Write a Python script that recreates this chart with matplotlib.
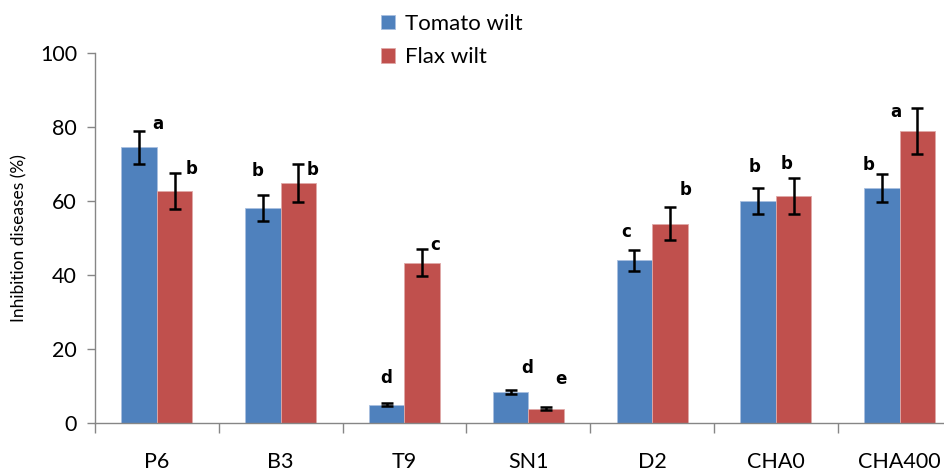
import matplotlib
matplotlib.use("Agg")
import matplotlib.pyplot as plt
import numpy as np

# data
strains = ["P6", "B3", "T9", "SN1", "D2", "CHA0", "CHA400"]
tomato = [74.5, 58.0, 4.9, 8.3, 44.0, 59.9, 63.4]
tomato_err = [4.4, 3.5, 0.4, 0.5, 2.8, 3.5, 3.8]
flax = [62.8, 64.9, 43.3, 3.9, 53.9, 61.4, 79.0]
flax_err = [4.9, 5.1, 3.6, 0.4, 4.4, 4.8, 6.2]
tomato_letters = ["a", "b", "d", "d", "c", "b", "b"]
flax_letters = ["b", "b", "c", "e", "b", "b", "a"]

# where the letters sit (offset from group centre, height)
tomato_lpos = [(0.01, 80.8), (-0.19, 68.0), (-0.15, 12.1), (-0.01, 14.9),
               (-0.21, 51.7), (-0.17, 69.2), (-0.25, 69.7)]
flax_lpos = [(0.28, 68.6), (0.26, 68.4), (0.25, 48.1), (0.26, 11.9),
             (0.27, 63.0), (0.09, 69.9), (-0.03, 84.1)]

blue = "#4F81BD"
red = "#C0504D"
grey = "#868686"

plt.rcParams["font.family"] = ["Lato", "DejaVu Sans"]

fig = plt.figure(figsize=(9.45, 4.74), dpi=100)
W, H = 945.0, 474.0
ax = fig.add_axes([95 / W, (H - 423) / H, 866.6 / W, 370 / H])

x = np.arange(len(strains))
bw = 0.287
ax.bar(x - bw / 2, tomato, bw, color=blue, edgecolor="#A9C0E0", linewidth=0.6,
       label="Tomato wilt", zorder=2)
ax.bar(x + bw / 2, flax, bw, color=red, edgecolor="#E0A9A8", linewidth=0.6,
       label="Flax wilt", zorder=2)
ax.errorbar(x - bw / 2, tomato, yerr=tomato_err, fmt="none", ecolor="black",
            elinewidth=1.8, capsize=4, capthick=1.8, zorder=3)
ax.errorbar(x + bw / 2, flax, yerr=flax_err, fmt="none", ecolor="black",
            elinewidth=1.8, capsize=4, capthick=1.8, zorder=3)

for i in range(len(strains)):
    dx, yy = tomato_lpos[i]
    ax.text(i + dx, yy, tomato_letters[i], ha="center", va="center",
            fontsize=12, fontweight="bold", family=["DejaVu Sans"])
    dx, yy = flax_lpos[i]
    ax.text(i + dx, yy, flax_letters[i], ha="center", va="center",
            fontsize=12, fontweight="bold", family=["DejaVu Sans"])

ax.set_xlim(-0.5, len(strains) - 0.5)
ax.set_ylim(0, 100)
ax.set_yticks([0, 20, 40, 60, 80, 100])
ax.tick_params(axis="y", labelsize=15.5, color=grey, length=6, width=1, pad=7)
ax.set_xticks(x)
ax.set_xticklabels(strains)
ax.tick_params(axis="x", which="major", length=0, labelsize=15.5, pad=21)
ax.set_xticks(np.arange(len(strains)) - 0.5, minor=True)
ax.tick_params(axis="x", which="minor", length=7, color=grey, width=1)

for s in ["top", "right"]:
    ax.spines[s].set_visible(False)
for s in ["left", "bottom"]:
    ax.spines[s].set_color(grey)
    ax.spines[s].set_linewidth(1)

ax.set_ylabel("Inhibition diseases (%)", fontsize=12.5, labelpad=9)

fig.legend(loc="upper left", bbox_to_anchor=(372 / W, 1 - 5 / H), frameon=False,
           fontsize=16, handlelength=0.65, handleheight=0.65, handletextpad=0.45,
           labelspacing=0.6, borderaxespad=0)

fig.savefig("out.png", dpi=100)
